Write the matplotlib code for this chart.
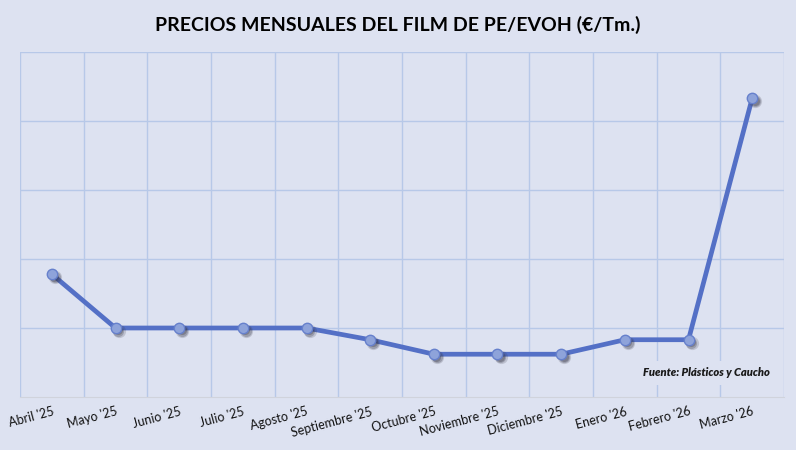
import matplotlib
matplotlib.use("Agg")
import matplotlib.pyplot as plt
import matplotlib.transforms as mtransforms
import numpy as np

months = ["Abril '25", "Mayo '25", "Junio '25", "Julio '25", "Agosto '25", "Septiembre '25",
          "Octubre '25", "Noviembre '25", "Diciembre '25", "Enero '26", "Febrero '26", "Marzo '26"]
prices = [2178, 2100, 2100, 2100, 2100, 2083, 2062, 2062, 2062, 2083, 2083, 2433]
y_min, y_max, y_step = 2000, 2500, 100

title = "PRECIOS MENSUALES DEL FILM DE PE/EVOH (€/Tm.)"
source = "Fuente: Plásticos y Caucho"

bg = "#DDE2F1"
grid_c = "#B7C8E8"
line_c = "#5470C6"
mk_face = "#8EA3DA"
mk_edge = "#6680CC"

plt.rcParams['font.family'] = ['Lato', 'DejaVu Sans']

fig = plt.figure(figsize=(7.96, 4.5), dpi=100, facecolor=bg)
ax = fig.add_axes([20/796, 1-397/450, 764/796, 345/450])
ax.set_facecolor(bg)

x = np.arange(len(months))
ax.set_xlim(-0.5, len(months) - 0.5)
ax.set_ylim(y_min, y_max)

for b in np.arange(-0.5, len(months), 1.0):
    ax.axvline(b, color=grid_c, lw=1.0, zorder=1)
for yv in np.arange(y_min + y_step, y_max + 1, y_step):
    ax.axhline(yv, color=grid_c, lw=1.0, zorder=1)

ax.plot(x, prices, color=line_c, lw=3.4, zorder=3, solid_capstyle='round', solid_joinstyle='round')

# soft marker shadows (offset down-right)
for k, (dx, dy, a, ms) in enumerate([(2.2, -2.2, 0.18, 9.5), (2.0, -2.0, 0.25, 8.0), (1.8, -1.8, 0.3, 6.5)]):
    tr = mtransforms.offset_copy(ax.transData, fig=fig, x=dx, y=dy, units='points')
    ax.plot(x, prices, linestyle='none', marker='o', markersize=ms, markerfacecolor='#333344',
            markeredgecolor='none', alpha=a, transform=tr, zorder=3.5)

ax.plot(x, prices, linestyle='none', marker='o', markersize=7.5,
        markerfacecolor=mk_face, markeredgecolor=mk_edge, markeredgewidth=1.0, zorder=4)

for s in ax.spines.values():
    s.set_visible(False)
ax.spines['bottom'].set_visible(True)
ax.spines['bottom'].set_color('#D0D3DC')

ax.set_yticks([])
ax.set_xticks(x)
ax.set_xticklabels(months, rotation=15, ha='right', rotation_mode='anchor', fontsize=9, color='#111111')
ax.tick_params(axis='x', length=0, pad=6)

fig.text(0.5, 1-25/450, title, ha='center', va='center', fontsize=14, fontweight='bold', color='#000000')

ax.text(770/796, 1-373/450, source, transform=fig.transFigure, ha='right', va='center',
        fontsize=8, fontweight='heavy', style='italic', color='#1a1a1a', zorder=5,
        bbox=dict(facecolor=bg, edgecolor='none', pad=5))

fig.savefig("out.png", dpi=100, facecolor=bg)
